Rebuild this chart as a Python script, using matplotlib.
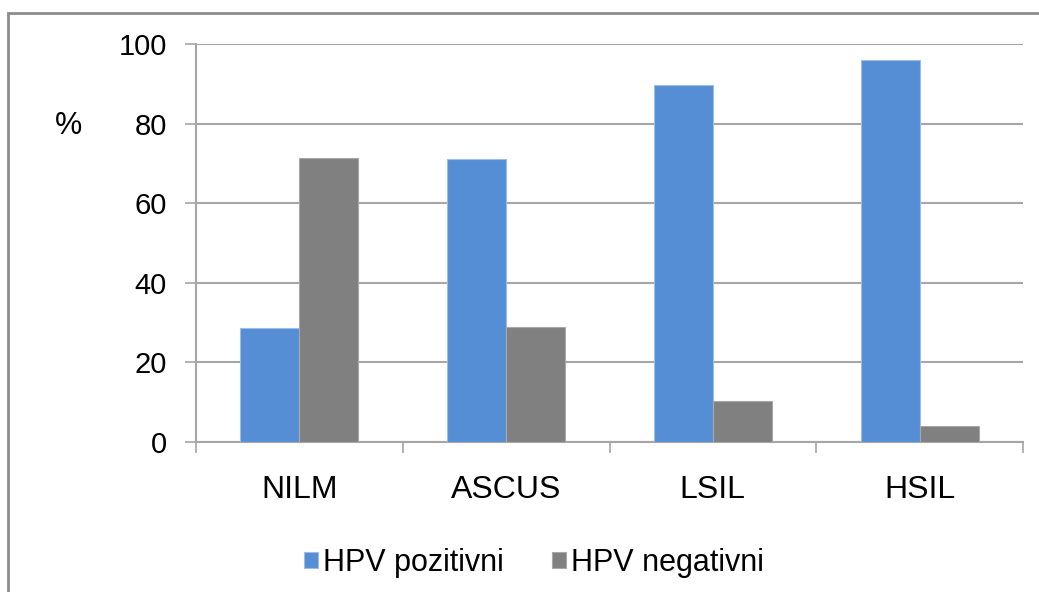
import matplotlib.pyplot as plt
import numpy as np
from matplotlib.patches import Rectangle

# Podaci
kategorije = ['NILM', 'ASCUS', 'LSIL', 'HSIL']
hpv_pozitivni = [28.6, 71.1, 89.8, 95.9]
hpv_negativni = [71.4, 28.9, 10.2, 4.1]
y_ticks = [0, 20, 40, 60, 80, 100]

plava = '#558ed5'
siva = '#808080'
linija = '#a6a6a6'

plt.rcParams['font.family'] = ['Liberation Sans', 'DejaVu Sans']

fig = plt.figure(figsize=(10.39, 5.92), dpi=100)
ax = fig.add_axes([196 / 1039, 1 - 442 / 592, (1023 - 196) / 1039, (442 - 44) / 592])

# okvir oko grafikona (vidljiv samo gore i lijevo)
fig.patches.append(Rectangle((8 / 1039, -0.1), 1.2, 1 - 13 / 592 + 0.1,
                             transform=fig.transFigure, fill=False,
                             edgecolor='#8c8c8c', linewidth=2))

x = np.arange(len(kategorije))
w = 0.285
ax.bar(x - w / 2, hpv_pozitivni, w, color=plava, edgecolor='#9dbde6',
       linewidth=0.8, label='HPV pozitivni', zorder=3)
ax.bar(x + w / 2, hpv_negativni, w, color=siva, edgecolor='#a8a8a8',
       linewidth=0.8, label='HPV negativni', zorder=3)

ax.set_xlim(-0.5, len(kategorije) - 0.5)
ax.set_ylim(0, 100)
ax.set_yticks(y_ticks)
ax.yaxis.grid(True, color=linija, linewidth=1.5, zorder=0)

ax.set_xticks(x)
ax.set_xticklabels(kategorije, fontsize=23)
ax.set_xticks(np.arange(-0.5, len(kategorije)), minor=True)
ax.tick_params(axis='x', which='major', length=0, pad=24)
ax.tick_params(axis='x', which='minor', length=8, width=1.2, color=linija)
ax.tick_params(axis='y', length=8, width=1.2, color=linija, labelsize=21, pad=13)

for s in ['top', 'right']:
    ax.spines[s].set_visible(False)
for s in ['left', 'bottom']:
    ax.spines[s].set_color(linija)
    ax.spines[s].set_linewidth(1.5)

fig.text(68 / 1039, 1 - 126 / 592, '%', fontsize=22, ha='center', va='center')

fig.legend(loc='center', bbox_to_anchor=(534 / 1039, 1 - 563 / 592), ncol=2,
           frameon=False, fontsize=22, handlelength=0.45, handleheight=0.45,
           handletextpad=0.15, columnspacing=1.6)

fig.savefig('out.png', dpi=100)
